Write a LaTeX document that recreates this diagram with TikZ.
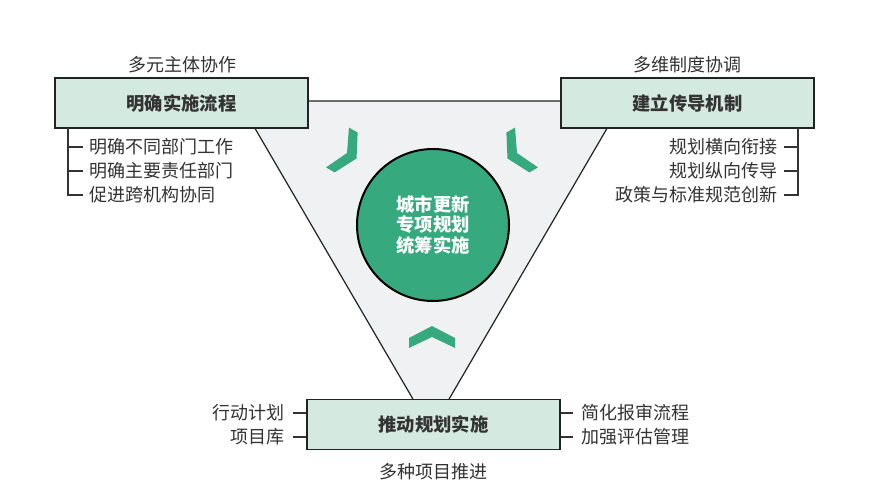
\documentclass[tikz,border=0pt]{standalone}
\usepackage{fontspec}
\setmainfont{Noto Sans CJK SC}
\definecolor{boxfill}{HTML}{D4E9E0}
\definecolor{trifill}{HTML}{F0F1F3}
\definecolor{grn}{HTML}{36A97F}
\definecolor{txt}{HTML}{333333}
\definecolor{edge}{HTML}{222222}
\begin{document}
\begin{tikzpicture}[x=1pt,y=-1pt,
  box/.style={draw=edge, line width=1.4pt, fill=boxfill, minimum width=253pt, minimum height=50pt, inner sep=0pt, font=\fontsize{18.3}{20}\selectfont\bfseries, text=txt},
  lbl/.style={font=\fontsize{18}{20}\selectfont, text=txt, inner sep=0pt},
  tick/.style={draw=txt, line width=1.2pt},
  chev/.style={fill=grn}]
\useasboundingbox (0,0) rectangle (893,489);
\fill[white] (0,0) rectangle (893,489);
% triangle
\filldraw[fill=trifill, draw=edge, line width=1.2pt, line join=miter] (239,101) -- (623,101) -- (431,430) -- cycle;
% chevrons
\fill[chev, shift={(432,337)}] (-23,1) -- (0,-11) -- (23,1) -- (23,11) -- (0,0) -- (-23,11) -- cycle;
\fill[chev, shift={(517,153)}, rotate=120] (-23,1) -- (0,-11) -- (23,1) -- (23,11) -- (0,0) -- (-23,11) -- cycle;
\fill[chev, shift={(347,153)}, rotate=-120] (-23,1) -- (0,-11) -- (23,1) -- (23,11) -- (0,0) -- (-23,11) -- cycle;
% hub
\node[circle, draw=black, line width=2pt, fill=grn, minimum size=152pt, inner sep=0pt, text=white, align=center, font=\fontsize{18.3}{20.5}\selectfont\bfseries] (hub) at (433,225) {城市更新\\专项规划\\统筹实施};
% boxes
\node[box] (tl) at (181.5,103) {明确实施流程};
\node[box] (tr) at (687.5,103) {建立传导机制};
\node[box] (bt) at (433.5,424.5) {推动规划实施};
% headings
\node[lbl] (tlh) at (182,65) {多元主体协作};
\node[lbl] (trh) at (687,65) {多维制度协调};
\node[lbl] (bth) at (433,472) {多种项目推进};
% top-left items
\node[lbl, anchor=west] (l1) at (89,147) {明确不同部门工作};
\node[lbl, anchor=west] (l2) at (89,171) {明确主要责任部门};
\node[lbl, anchor=west] (l3) at (89,195) {促进跨机构协同};
\coordinate (lv) at (68,128);
\draw[tick] (lv) |- ([xshift=-6pt]l3.west);
\draw[tick] (lv |- l1.west) -- ([xshift=-6pt]l1.west);
\draw[tick] (lv |- l2.west) -- ([xshift=-6pt]l2.west);
% top-right items
\node[lbl, anchor=east] (r1) at (778,147) {规划横向衔接};
\node[lbl, anchor=east] (r2) at (778,171) {规划纵向传导};
\node[lbl, anchor=east] (r3) at (778,195) {政策与标准规范创新};
\coordinate (rv) at (798,128);
\draw[tick] (rv) |- ([xshift=6pt]r3.east);
\draw[tick] (rv |- r1.east) -- ([xshift=6pt]r1.east);
\draw[tick] (rv |- r2.east) -- ([xshift=6pt]r2.east);
% bottom items
\node[lbl, anchor=east] (b1) at (285,413) {行动计划};
\node[lbl, anchor=east] (b2) at (285,437) {项目库};
\node[lbl, anchor=west] (b3) at (581,413) {简化报审流程};
\node[lbl, anchor=west] (b4) at (581,437) {加强评估管理};
\draw[tick] ([xshift=8pt]b1.east) -- (bt.west |- b1.east);
\draw[tick] ([xshift=8pt]b2.east) -- (bt.west |- b2.east);
\draw[tick] ([xshift=-8pt]b3.west) -- (bt.east |- b3.west);
\draw[tick] ([xshift=-8pt]b4.west) -- (bt.east |- b4.west);
\end{tikzpicture}
\end{document}
